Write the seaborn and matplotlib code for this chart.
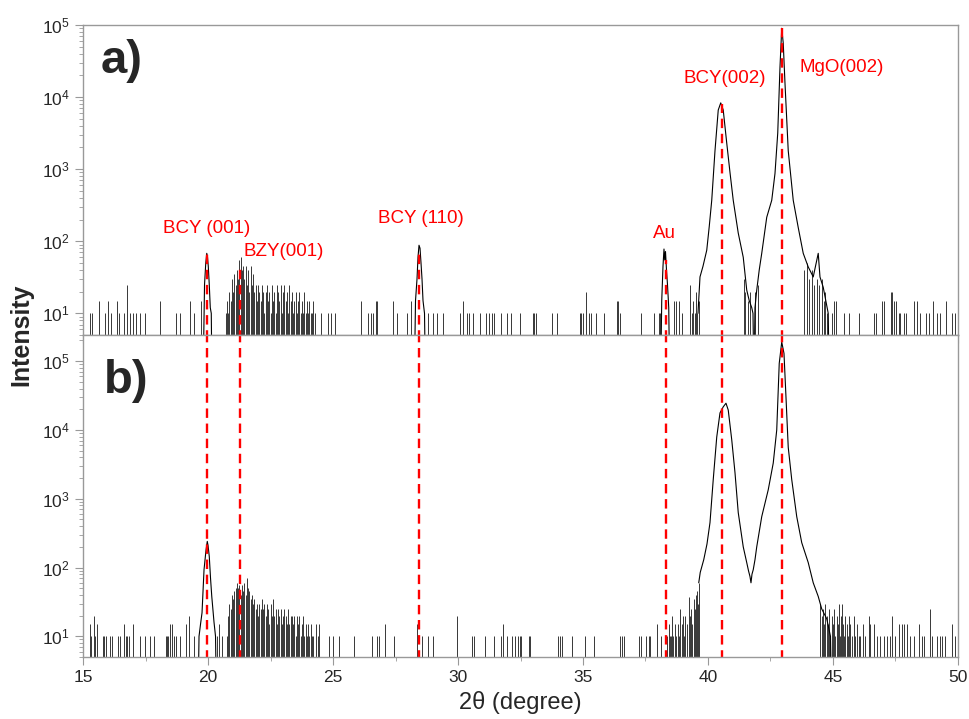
import numpy as np
import matplotlib
matplotlib.use("Agg")
import matplotlib.pyplot as plt
import matplotlib.ticker as mticker
import seaborn as sns

sns.set_theme(style="white")
plt.rcParams['font.family'] = ['Liberation Sans', 'DejaVu Sans']
plt.rcParams['mathtext.fontset'] = 'custom'
plt.rcParams['mathtext.rm'] = 'Liberation Sans'

# ---------------- data ----------------
# panel a) : peak profiles (2theta, counts)
a_p001_x = [19.80, 19.86, 19.91, 19.95, 19.98, 20.01, 20.05, 20.09, 20.13, 20.16]
a_p001_y = [1, 25, 50, 68, 60, 45, 25, 12, 10, 1]
a_p110_x = [28.25, 28.30, 28.36, 28.40, 28.44, 28.48, 28.52, 28.56, 28.60, 28.66, 28.70]
a_p110_y = [1, 15, 30, 60, 88, 80, 50, 30, 15, 10, 1]
a_au_x = [38.10, 38.15, 38.20, 38.24, 38.27, 38.30, 38.34, 38.38, 38.43, 38.47]
a_au_y = [1, 15, 45, 78, 55, 72, 40, 25, 12, 1]
a_main_x = [39.60, 39.68, 39.80, 39.95, 40.05, 40.15, 40.28, 40.41, 40.51, 40.61, 40.75,
            40.88, 41.01, 41.21, 41.41, 41.55, 41.65, 41.75, 41.80, 41.84, 41.88, 41.95,
            42.05, 42.15, 42.35, 42.55, 42.68, 42.79, 42.88, 42.95, 43.01, 43.08, 43.21,
            43.41, 43.61, 43.81, 44.01, 44.21, 44.41, 44.48, 44.61, 44.81, 44.85]
a_main_y = [10, 32, 45, 75, 160, 370, 1800, 6600, 8300, 6600, 2300,
            900, 370, 130, 60, 21, 15, 12, 10, 1, 12, 21,
            40, 68, 215, 370, 870, 3160, 26000, 90000, 56000, 15600, 1800,
            370, 155, 68, 44, 32, 68, 32, 23, 10, 1]

# panel a) : single noise counts (2theta, counts)
a_noise_x = [15.29, 15.36, 15.63, 15.87, 16.00, 16.12, 16.35, 16.45, 16.63, 16.76, 16.87,
             17.00, 17.10, 17.29, 17.48, 18.07, 18.73, 18.89, 19.27, 19.43, 19.73,
             20.70, 20.75, 20.80, 20.85, 20.90, 20.95, 21.00, 21.05, 21.10, 21.15, 21.20,
             21.25, 21.30, 21.35, 21.40, 21.45, 21.50, 21.55, 21.60, 21.65, 21.70, 21.75,
             21.80, 21.85, 21.90, 21.95, 22.00, 22.05, 22.10, 22.15, 22.20, 22.25, 22.30,
             22.35, 22.40, 22.45, 22.50, 22.55, 22.60, 22.65, 22.70, 22.75, 22.80, 22.85,
             22.90, 22.95, 23.00, 23.05, 23.10, 23.15, 23.20, 23.25, 23.30, 23.35, 23.40,
             23.45, 23.50, 23.55, 23.60, 23.65, 23.70, 23.75, 23.80, 23.85, 23.90, 23.95,
             24.00, 24.05, 24.10, 24.15, 24.20, 24.28,
             24.51, 24.81, 24.91, 25.08, 26.11, 26.41, 26.51, 26.59, 26.72, 26.76, 27.41,
             27.57, 27.97, 28.11, 28.81, 29.01, 29.17, 29.41, 30.08, 30.19, 30.37, 30.45,
             30.59, 30.88, 31.12, 31.25, 31.36, 31.44, 31.73, 31.95, 32.11, 32.49, 33.00,
             33.05, 33.11, 33.75, 33.96, 34.87, 34.92, 35.00, 35.13, 35.23, 35.32, 35.51,
             35.85, 36.36, 36.41, 36.47, 37.32, 37.85, 38.03, 38.09, 38.63, 38.73, 38.84,
             38.96, 39.27, 39.36, 39.42, 39.48, 39.53, 39.58, 39.63,
             41.45, 41.50, 41.60, 41.70, 41.90, 42.00, 43.85, 43.95, 44.05, 44.15, 44.25,
             44.35, 44.45, 44.55, 44.65, 44.70, 44.76, 44.95, 45.03, 45.13, 45.43, 45.63,
             46.03, 46.65, 46.73, 46.96, 47.03, 47.32, 47.37, 47.45, 47.53, 47.63, 47.69,
             47.83, 47.93, 48.23, 48.36, 48.48, 48.73, 48.83, 49.00, 49.16, 49.27, 49.53,
             49.76, 49.89]
a_noise_y = [10, 10, 15, 10, 15, 10, 15, 10, 10, 25, 10,
             10, 10, 10, 10, 15, 10, 10, 15, 10, 15,
             10, 15, 10, 20, 15, 30, 20, 35, 25, 40, 30,
             55, 60, 40, 45, 30, 45, 25, 40, 20, 45, 25,
             35, 20, 25, 15, 25, 20, 15, 25, 20, 10, 20,
             25, 15, 20, 10, 25, 15, 20, 10, 25, 20, 15,
             25, 10, 20, 25, 15, 20, 10, 25, 15, 20, 10,
             15, 20, 10, 15, 20, 10, 15, 10, 20, 10, 15,
             10, 15, 10, 10, 15, 10,
             10, 10, 10, 10, 15, 10, 10, 10, 15, 15, 15,
             10, 10, 15, 10, 10, 10, 10, 10, 15, 10, 10,
             10, 10, 10, 10, 10, 10, 10, 10, 10, 10, 10,
             10, 10, 10, 10, 10, 10, 10, 20, 10, 10, 10,
             10, 15, 15, 10, 10, 10, 10, 10, 15, 15, 15,
             10, 25, 10, 15, 10, 20, 10, 15,
             30, 20, 15, 20, 20, 25, 40, 50, 30, 40, 25,
             30, 25, 30, 15, 20, 10, 10, 15, 15, 10, 10,
             10, 10, 10, 15, 15, 20, 20, 15, 15, 10, 10,
             10, 10, 15, 15, 10, 10, 10, 15, 10, 10, 15,
             10, 10]

# panel b) : peak profiles
b_p001_x = [19.60, 19.64, 19.70, 19.76, 19.84, 19.92, 19.97, 20.00, 20.05, 20.10, 20.15,
            20.24, 20.30, 20.34]
b_p001_y = [1, 10, 15, 22, 93, 180, 240, 210, 145, 70, 38, 16, 10, 1]
b_main_x = [39.63, 39.69, 39.83, 39.96, 40.08, 40.21, 40.35, 40.48, 40.61, 40.72, 40.81,
            40.95, 41.08, 41.21, 41.41, 41.55, 41.62, 41.68, 41.72, 41.76, 41.81, 41.88,
            41.95, 42.15, 42.41, 42.61, 42.75, 42.85, 42.95, 43.04, 43.12, 43.21, 43.35,
            43.55, 43.75, 44.01, 44.21, 44.41, 44.55, 44.75, 44.90, 44.95]
b_main_y = [60, 85, 130, 220, 450, 1900, 7900, 17700, 21700, 24500, 19500,
            7200, 2400, 630, 200, 118, 90, 74, 60, 80, 93, 130,
            200, 550, 1350, 3300, 10000, 93000, 190000, 130000, 30000, 5600, 1900,
            550, 230, 118, 60, 38, 25, 18, 10, 1]

# panel b) : single noise counts
b_noise_x = [15.27, 15.32, 15.43, 15.48, 15.56, 15.80, 15.85, 15.91, 16.07, 16.17, 16.40,
             16.47, 16.63, 16.71, 16.76, 16.84, 17.00, 17.27, 17.48, 17.67, 17.83, 18.31,
             18.36, 18.41, 18.47, 18.55, 18.63, 18.73, 18.89, 19.11, 19.24, 19.43,
             20.35, 20.45, 20.55,
             20.75, 20.80, 20.85, 20.90, 20.95, 21.00, 21.05, 21.10, 21.15, 21.20, 21.25,
             21.30, 21.35, 21.40, 21.45, 21.50, 21.55, 21.60, 21.65, 21.70, 21.75, 21.80,
             21.85, 21.90, 21.95, 22.00, 22.05, 22.10, 22.15, 22.20, 22.25, 22.30, 22.35,
             22.40, 22.45, 22.50, 22.55, 22.60, 22.65, 22.70, 22.75, 22.80, 22.85, 22.90,
             22.95, 23.00, 23.05, 23.10, 23.15, 23.20, 23.25, 23.30, 23.35, 23.40, 23.45,
             23.50, 23.55, 23.60, 23.65, 23.70, 23.75, 23.80, 23.85, 23.90, 23.95, 24.00,
             24.05, 24.10, 24.15, 24.20, 24.30, 24.40,
             24.45, 24.85, 25.01, 25.25, 25.84, 26.55, 26.75, 26.83, 27.08, 27.44, 28.37,
             28.55, 28.81, 29.01, 29.95, 30.55, 30.64, 31.08, 31.44, 31.71, 31.81, 31.97,
             32.15, 32.28, 32.41, 32.47, 32.52, 32.83, 32.89, 33.99, 34.07, 34.16, 34.56,
             35.09, 35.45, 36.47, 36.56, 36.63, 37.23, 37.32, 37.53, 37.63, 37.69, 37.96,
             38.12,
             38.38, 38.43, 38.48, 38.52, 38.56, 38.62, 38.68, 38.74, 38.80, 38.85, 38.89,
             38.95, 39.00, 39.05, 39.10, 39.15, 39.23, 39.28, 39.33, 39.38, 39.43, 39.48,
             39.52, 39.56, 39.60, 39.63,
             44.50, 44.55, 44.60, 44.65, 44.70, 44.75, 44.80, 44.85, 44.90, 44.95, 45.00,
             45.05, 45.10, 45.15, 45.20, 45.23, 45.28, 45.33, 45.36, 45.40, 45.45, 45.50,
             45.55, 45.60, 45.65, 45.70, 45.75, 45.83, 45.90, 45.96, 46.03, 46.10, 46.20,
             46.30, 46.43, 46.50, 46.63, 46.76, 46.89, 47.03, 47.16, 47.29, 47.36, 47.50,
             47.63, 47.76, 47.83, 47.96, 48.10, 48.23, 48.43, 48.56, 48.65, 48.87, 48.96,
             49.16, 49.29, 49.36, 49.50, 49.76, 49.89]
b_noise_y = [15, 10, 20, 10, 15, 10, 10, 10, 10, 10, 10,
             10, 15, 10, 10, 10, 15, 10, 10, 10, 10, 10,
             10, 10, 15, 15, 10, 10, 10, 15, 20, 10,
             10, 15, 10,
             10, 20, 30, 25, 40, 35, 45, 50, 60, 50, 55,
             40, 55, 45, 60, 40, 70, 50, 45, 35, 40, 30,
             35, 25, 30, 20, 30, 25, 35, 25, 30, 20, 30,
             25, 15, 30, 20, 35, 20, 25, 15, 25, 20, 25,
             15, 20, 25, 20, 15, 25, 15, 20, 20, 15, 20,
             10, 20, 15, 20, 10, 15, 20, 10, 15, 10, 15,
             10, 15, 10, 10, 15, 10,
             15, 10, 10, 10, 10, 10, 10, 10, 15, 10, 15,
             10, 10, 10, 20, 10, 10, 10, 10, 10, 15, 10,
             10, 10, 10, 10, 10, 10, 10, 10, 10, 10, 10,
             10, 10, 10, 10, 10, 10, 10, 10, 10, 10, 15,
             10,
             10, 15, 10, 10, 20, 10, 15, 10, 15, 10, 25,
             15, 20, 10, 20, 15, 37, 20, 25, 15, 35, 25,
             40, 45, 30, 60,
             30, 20, 25, 15, 30, 20, 15, 25, 10, 20, 15,
             25, 10, 20, 15, 30, 10, 20, 30, 15, 10, 20,
             15, 10, 20, 15, 10, 20, 10, 15, 10, 10, 15,
             10, 20, 15, 15, 10, 10, 10, 10, 10, 20, 10,
             15, 15, 15, 15, 10, 10, 15, 10, 10, 25, 10,
             10, 10, 10, 10, 15, 10]

# reference reflections: position, top of dashed line in panel a)
ref_x = [19.96, 21.28, 28.45, 38.32, 40.58, 42.96]
ref_top_a = [70, 45, 70, 55, 8000, 100000]
# labels in panel a)
lab_text = ["BCY (001)", "BZY(001)", "BCY (110)", "Au", "BCY(002)", "MgO(002)"]
lab_x = [19.96, 21.40, 28.53, 38.24, 40.68, 45.36]
lab_y = [151, 73, 204, 128, 18300, 26000]
lab_ha = ["center", "left", "center", "center", "center", "center"]

# ---------------- figure ----------------
fig = plt.figure(figsize=(9.7, 7.19), dpi=100)
ax_a = fig.add_axes([0.0856, 0.534, 0.902, 0.4313])
ax_b = fig.add_axes([0.0856, 0.0862, 0.902, 0.4478], sharex=ax_a)

trace_kw = dict(color="black", linewidth=0.8, estimator=None, sort=False, legend=False)
noise_kw = dict(colors="#2a2a2a", linewidth=0.65)
dash_kw = dict(color="red", linewidth=1.7, linestyle=(0, (4, 2.4)))

# panel a
ax_a.vlines(a_noise_x, 1, a_noise_y, **noise_kw)
for xs, ys in [(a_p001_x, a_p001_y), (a_p110_x, a_p110_y), (a_au_x, a_au_y), (a_main_x, a_main_y)]:
    sns.lineplot(x=xs, y=ys, ax=ax_a, **trace_kw)
for xr, yt in zip(ref_x, ref_top_a):
    ax_a.plot([xr, xr], [1, yt], **dash_kw)
for t, xl, yl, ha in zip(lab_text, lab_x, lab_y, lab_ha):
    ax_a.text(xl, yl, t, color="red", fontsize=13.5, ha=ha, va="center")
ax_a.text(0.02, 0.955, "a)", transform=ax_a.transAxes, fontsize=34, fontweight="bold",
          ha="left", va="top")

# panel b
ax_b.vlines(b_noise_x, 1, b_noise_y, **noise_kw)
for xs, ys in [(b_p001_x, b_p001_y), (b_main_x, b_main_y)]:
    sns.lineplot(x=xs, y=ys, ax=ax_b, **trace_kw)
for xr in ref_x:
    ax_b.plot([xr, xr], [1, 1e6], **dash_kw)
ax_b.text(0.024, 0.925, "b)", transform=ax_b.transAxes, fontsize=34, fontweight="bold",
          ha="left", va="top")

ax_a.set_yscale("log")
ax_b.set_yscale("log")
ax_a.set_ylim(5, 1e5)
ax_b.set_ylim(5, 2.4e5)
ax_b.set_xlim(15, 50)
ax_b.set_xticks([15, 20, 25, 30, 35, 40, 45, 50])
ax_b.xaxis.set_minor_locator(mticker.MultipleLocator(2.5))

for ax in (ax_a, ax_b):
    ax.yaxis.set_major_locator(mticker.LogLocator(base=10, numticks=10))
    ax.yaxis.set_minor_locator(mticker.LogLocator(base=10, subs=np.arange(2, 10), numticks=10))
    ax.yaxis.set_minor_formatter(mticker.NullFormatter())
    for s in ax.spines.values():
        s.set_color("#999999")
        s.set_linewidth(1.0)
    ax.tick_params(which="major", direction="out", length=6, width=0.8, color="#999999",
                   labelsize=12.5, left=True, bottom=True)
    ax.tick_params(which="minor", direction="out", length=3, width=0.6, color="#999999",
                   left=True, bottom=True)
    ax.set_ylabel("")
    ax.set_xlabel("")
ax_a.tick_params(axis="x", labelbottom=False)

fig.text(0.022, 0.534, "Intensity", rotation=90, fontsize=18, fontweight="bold",
         ha="center", va="center")
ax_b.set_xlabel("2θ (degree)", fontsize=17, labelpad=4)

fig.savefig("out.png", dpi=100)
